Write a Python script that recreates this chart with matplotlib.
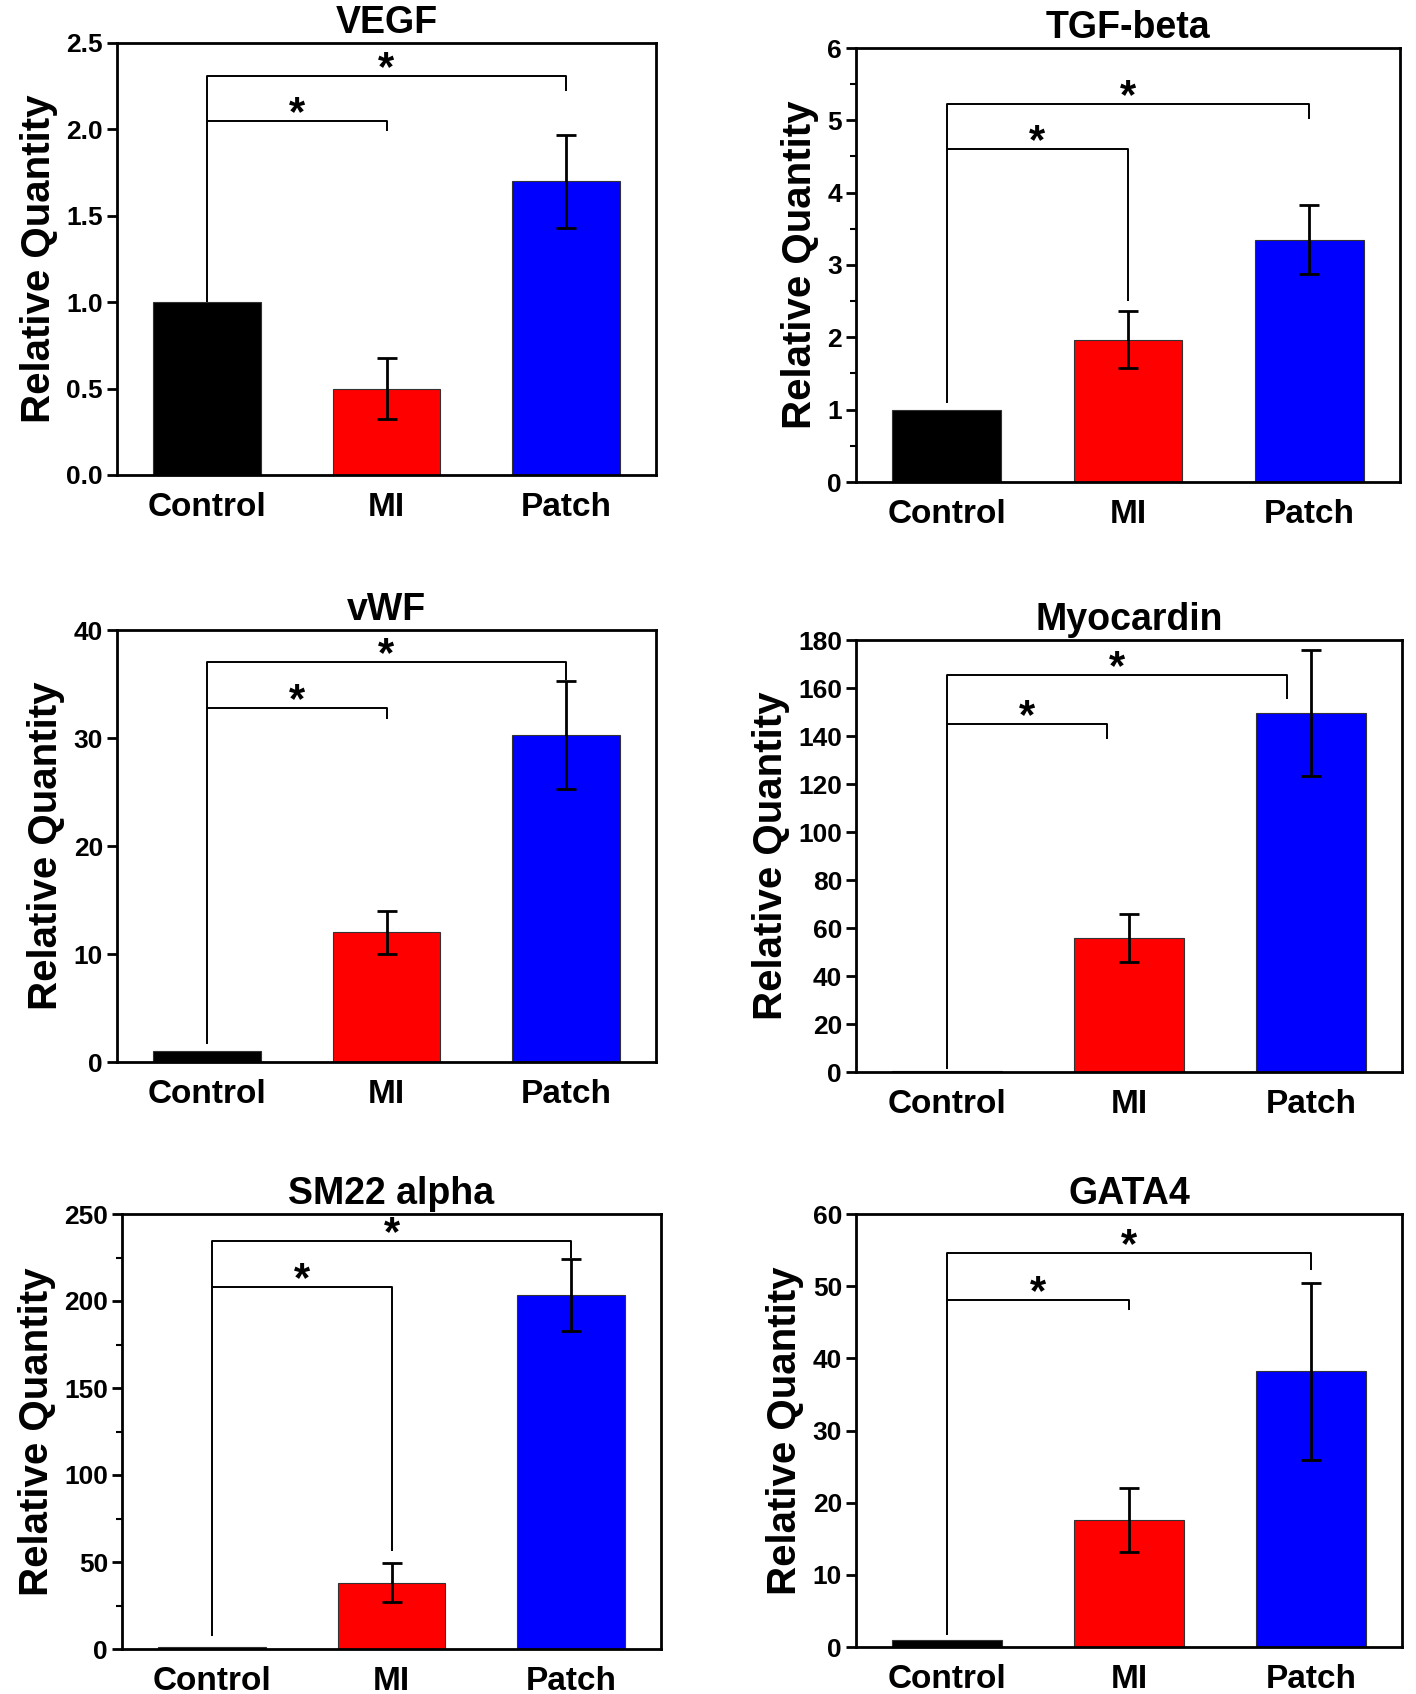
import matplotlib; matplotlib.use('Agg')
import matplotlib.pyplot as plt
from matplotlib.ticker import MultipleLocator

plt.rcParams['font.family'] = ['Liberation Sans', 'DejaVu Sans']
plt.rcParams['font.weight'] = 'bold'

# =============================================================================
# DATA
# =============================================================================
GROUPS = ['Control', 'MI', 'Patch']
COLORS = ['#000000', '#ff0000', '#0000ff']

VEGF_MEAN = [1.0, 0.50, 1.70]
VEGF_ERR = [0.0, 0.175, 0.27]
TGF_MEAN = [1.0, 1.97, 3.35]
TGF_ERR = [0.0, 0.40, 0.48]
VWF_MEAN = [1.0, 12.0, 30.3]
VWF_ERR = [0.0, 2.0, 5.0]
MYO_MEAN = [0.5, 55.8, 149.5]
MYO_ERR = [0.0, 9.9, 26.3]
SM22_MEAN = [1.0, 38.2, 203.5]
SM22_ERR = [0.0, 11.0, 20.8]
GATA4_MEAN = [1.0, 17.6, 38.2]
GATA4_ERR = [0.0, 4.4, 12.3]

# significance brackets: control-leg start, (lower y, lower drop), (upper y, upper drop), bracket ends
VEGF_BR = dict(start=1.0, low=(2.05, 1.99), up=(2.31, 2.22), ends=(2.0, 3.0))
TGF_BR = dict(start=1.09, low=(4.60, 2.50), up=(5.23, 5.02), ends=(2.0, 3.0))
VWF_BR = dict(start=1.65, low=(32.8, 31.8), up=(37.0, 35.4), ends=(2.0, 3.0))
MYO_BR = dict(start=1.3, low=(144.9, 138.7), up=(165.4, 155.4), ends=(1.88, 2.87))
SM22_BR = dict(start=7.4, low=(208.2, 56.2), up=(234.3, 224.5), ends=(2.0, 3.0))
GATA4_BR = dict(start=1.6, low=(48.1, 46.7), up=(54.6, 52.3), ends=(2.0, 3.0))

W, H = 1416, 1694
STAR_FS = 30

PANELS = [
    # title, mean, err, brackets, ylim, major, minor, fmt, axes box (l, r, t, b) in px
    ('VEGF', VEGF_MEAN, VEGF_ERR, VEGF_BR, (0, 2.5), 0.5, None, '{:.1f}', (117, 656, 43, 475)),
    ('TGF-beta', TGF_MEAN, TGF_ERR, TGF_BR, (0, 6), 1, 0.5, '{:.0f}', (856, 1400, 48, 482)),
    ('vWF', VWF_MEAN, VWF_ERR, VWF_BR, (0, 40), 10, None, '{:.0f}', (117, 656, 630, 1062)),
    ('Myocardin', MYO_MEAN, MYO_ERR, MYO_BR, (0, 180), 20, None, '{:.0f}', (856, 1402, 640, 1072)),
    ('SM22 alpha', SM22_MEAN, SM22_ERR, SM22_BR, (0, 250), 50, 25, '{:.0f}', (122, 661, 1214, 1649)),
    ('GATA4', GATA4_MEAN, GATA4_ERR, GATA4_BR, (0, 60), 10, None, '{:.0f}', (856, 1402, 1214, 1647)),
]

fig = plt.figure(figsize=(W / 100, H / 100), dpi=100)
fig.patch.set_facecolor('white')

for title, mean, err, br, ylim, major, minor, fmt, (l, r, t, b) in PANELS:
    ax = fig.add_axes([l / W, 1 - b / H, (r - l) / W, (b - t) / H])
    x = [1, 2, 3]
    ax.bar(x, mean, width=0.6, color=COLORS, edgecolor='#333333', linewidth=0.8, zorder=2)
    ax.errorbar(x[1:], mean[1:], yerr=err[1:], fmt='none', ecolor='black',
                elinewidth=2.0, capsize=7, capthick=2.0, zorder=3)

    # significance brackets
    x1, x2 = br['ends']
    ylo, dlo = br['low']
    yup, dup = br['up']
    lk = dict(color='black', lw=1.4, zorder=4, solid_capstyle='butt')
    ax.plot([1, 1, x2, x2], [br['start'], yup, yup, dup], **lk)
    ax.plot([1, x1, x1], [ylo, ylo, dlo], **lk)
    # star glyph centre ~15 px above the bracket
    dy_pt = 20 * 0.72 - 0.58 * STAR_FS
    for xs, ys in [((1 + x1) / 2, ylo), ((1 + x2) / 2, yup)]:
        ax.annotate('*', xy=(xs, ys), xytext=(0, dy_pt), textcoords='offset points',
                    ha='center', va='baseline', fontsize=STAR_FS, fontweight='bold',
                    zorder=5)

    ax.set_xlim(0.5, 3.5)
    ax.set_ylim(*ylim)
    ax.yaxis.set_major_locator(MultipleLocator(major))
    if minor:
        ax.yaxis.set_minor_locator(MultipleLocator(minor))
    ax.set_yticks(ax.get_yticks())
    ax.set_yticklabels([fmt.format(v) for v in ax.get_yticks()])
    ax.set_ylim(*ylim)
    ax.set_xticks(x)
    ax.set_xticklabels(GROUPS, fontsize=24, fontweight='bold')
    ax.tick_params(axis='x', length=0, pad=12)
    ax.tick_params(axis='y', which='major', direction='out', length=7, width=2,
                   labelsize=19, pad=3)
    ax.tick_params(axis='y', which='minor', direction='out', length=4, width=1.5)
    for lab in ax.get_yticklabels():
        lab.set_fontweight('bold')
    for sp in ax.spines.values():
        sp.set_linewidth(2.0)
    ax.set_title(title, fontsize=27, fontweight='bold', pad=7)
    ax.set_ylabel('Relative Quantity', fontsize=29, fontweight='bold', labelpad=6)

plt.savefig('out.png', dpi=100, facecolor='white')
plt.close()
